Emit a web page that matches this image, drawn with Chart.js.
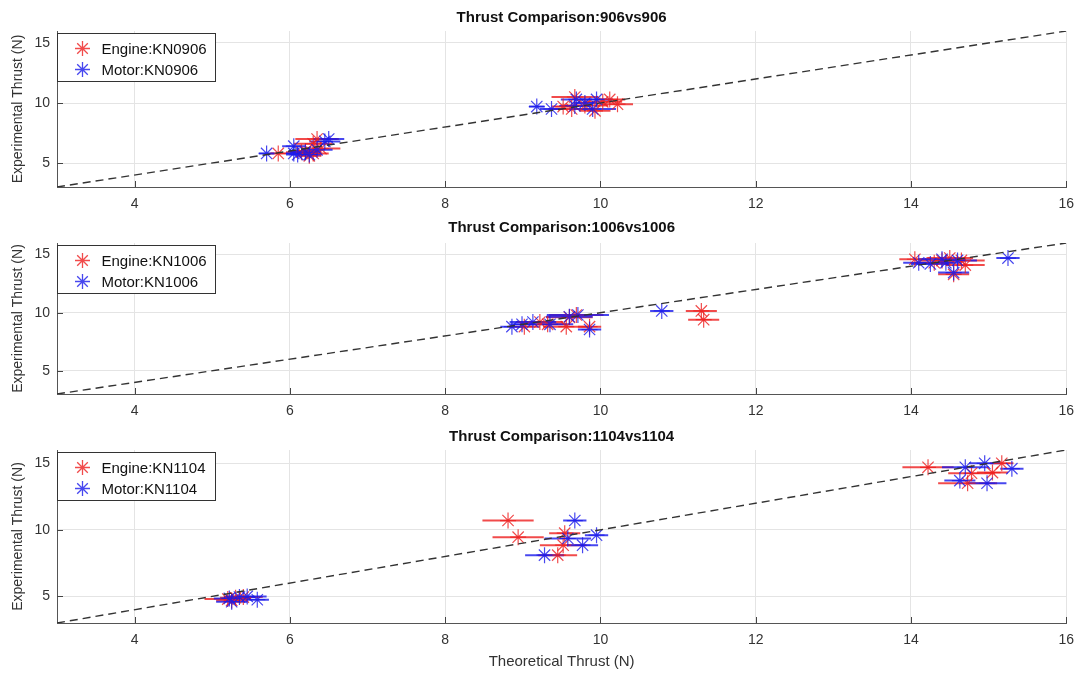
<!DOCTYPE html>
<html>
<head>
<meta charset="utf-8">
<script src="https://cdn.jsdelivr.net/npm/chart.js@4.4.1/dist/chart.umd.min.js"></script>
<style>
  body { margin: 0; background: #fff; width: 1083px; height: 675px; position: relative; overflow: hidden; }
  canvas { position: absolute; left: 0; }
</style>
</head>
<body>
<canvas id="c1" width="1083" height="214" style="top:0px"></canvas>
<canvas id="c2" width="1083" height="206" style="top:214px"></canvas>
<canvas id="c3" width="1083" height="255" style="top:420px"></canvas>
<script>
// axes
const xTicks = [4, 6, 8, 10, 12, 14, 16];
const yTicks = [5, 10, 15];
const refLine = [3, 16];

// panel 1 : 906 vs 906
const p1EngineX = [5.85, 6.35, 6.3, 6.2, 6.25, 6.4, 6.15, 6.3, 9.52, 9.67, 10.12, 10.22, 9.63, 9.93, 10.03, 9.8];
const p1EngineY = [5.8, 7.0, 6.6, 6.0, 5.6, 6.2, 5.9, 5.8, 9.7, 10.5, 10.3, 9.9, 9.5, 9.35, 10.1, 9.8];
const p1EngineErr = [0.1, 0.28, 0.25, 0.2, 0.15, 0.25, 0.2, 0.2, 0.15, 0.3, 0.2, 0.2, 0.3, 0.2, 0.25, 0.3];
const p1MotorX = [5.7, 6.05, 6.5, 6.45, 6.1, 6.2, 6.35, 6.25, 6.05, 9.18, 9.37, 9.69, 9.95, 9.9, 9.67, 9.8];
const p1MotorY = [5.8, 6.4, 7.0, 6.8, 5.7, 5.9, 6.1, 5.7, 5.8, 9.7, 9.5, 10.3, 10.3, 9.5, 9.75, 10.0];
const p1MotorErr = [0.1, 0.15, 0.2, 0.2, 0.15, 0.2, 0.2, 0.15, 0.1, 0.1, 0.15, 0.2, 0.2, 0.3, 0.2, 0.15];

// panel 2 : 1006 vs 1006
const p2EngineX = [9.02, 9.32, 9.56, 9.69, 9.86, 9.22, 9.6, 11.3, 11.33, 14.05, 14.3, 14.5, 14.65, 14.7, 14.55, 14.4];
const p2EngineY = [8.8, 9.0, 8.8, 9.8, 8.8, 9.2, 9.6, 10.15, 9.4, 14.6, 14.3, 14.7, 14.5, 14.1, 13.3, 14.5];
const p2EngineErr = [0.2, 0.25, 0.3, 0.35, 0.15, 0.3, 0.3, 0.2, 0.2, 0.2, 0.25, 0.3, 0.3, 0.25, 0.2, 0.3];
const p2MotorX = [8.86, 9.13, 9.6, 9.71, 9.86, 9.35, 8.99, 10.79, 14.1, 14.25, 14.4, 14.45, 14.55, 14.6, 15.25];
const p2MotorY = [8.8, 9.2, 9.65, 9.8, 8.55, 9.0, 9.0, 10.15, 14.3, 14.2, 14.6, 14.3, 13.45, 14.5, 14.7];
const p2MotorErr = [0.15, 0.3, 0.3, 0.4, 0.15, 0.3, 0.15, 0.15, 0.2, 0.25, 0.3, 0.2, 0.2, 0.25, 0.15];

// panel 3 : 1104 vs 1104
const p3EngineX = [5.2, 5.3, 5.4, 5.25, 8.81, 8.94, 9.54, 9.52, 9.45, 14.22, 15.17, 15.05, 14.78, 14.73];
const p3EngineY = [4.8, 4.9, 4.95, 4.7, 10.7, 9.45, 9.75, 8.85, 8.1, 14.7, 15.0, 14.3, 14.25, 13.5];
const p3EngineErr = [0.3, 0.2, 0.25, 0.2, 0.33, 0.33, 0.2, 0.3, 0.25, 0.33, 0.15, 0.2, 0.3, 0.38];
const p3MotorX = [5.22, 5.35, 5.45, 5.58, 5.25, 9.67, 9.58, 9.77, 9.95, 9.28, 14.7, 14.95, 15.3, 14.63, 14.98];
const p3MotorY = [4.85, 4.95, 5.0, 4.75, 4.6, 10.7, 9.35, 8.85, 9.6, 8.1, 14.7, 15.0, 14.6, 13.7, 13.5];
const p3MotorErr = [0.2, 0.2, 0.25, 0.15, 0.2, 0.15, 0.3, 0.2, 0.15, 0.25, 0.3, 0.2, 0.15, 0.2, 0.25];

const RED = 'rgba(238,30,30,0.8)';
const BLUE = 'rgba(25,25,235,0.8)';
const FONT = '"Liberation Sans", Arial, sans-serif';

function pts(xs, ys) {
  return xs.map((x, i) => ({ x: x, y: ys[i] }));
}

function drawStar(ctx, x, y, r) {
  ctx.beginPath();
  for (let k = 0; k < 4; k++) {
    const a = k * Math.PI / 4;
    ctx.moveTo(x - r * Math.cos(a), y - r * Math.sin(a));
    ctx.lineTo(x + r * Math.cos(a), y + r * Math.sin(a));
  }
  ctx.stroke();
}

// horizontal error bars, ticks inside the axes, title and legend
const decorPlugin = {
  id: 'decor',
  beforeDatasetsDraw(chart) {
    const ctx = chart.ctx, xs = chart.scales.x, ys = chart.scales.y, a = chart.chartArea;
    ctx.save();
    ctx.beginPath();
    ctx.rect(a.left, a.top, a.right - a.left, a.bottom - a.top);
    ctx.clip();
    chart.data.datasets.forEach(ds => {
      if (!ds.errX) return;
      ctx.strokeStyle = ds.borderColor;
      ctx.lineWidth = 2;
      ds.data.forEach((p, i) => {
        const py = ys.getPixelForValue(p.y);
        ctx.beginPath();
        ctx.moveTo(xs.getPixelForValue(p.x - ds.errX[i]), py);
        ctx.lineTo(xs.getPixelForValue(p.x + ds.errX[i]), py);
        ctx.stroke();
      });
    });
    ctx.restore();
  },
  afterDraw(chart, args, opts) {
    const ctx = chart.ctx, xs = chart.scales.x, ys = chart.scales.y, a = chart.chartArea;
    ctx.save();
    ctx.strokeStyle = '#444';
    ctx.lineWidth = 1;
    xTicks.forEach(v => {
      const px = Math.round(xs.getPixelForValue(v)) + 0.5;
      ctx.beginPath(); ctx.moveTo(px, a.bottom); ctx.lineTo(px, a.bottom - 6); ctx.stroke();
    });
    yTicks.forEach(v => {
      const py = Math.round(ys.getPixelForValue(v)) + 0.5;
      ctx.beginPath(); ctx.moveTo(a.left, py); ctx.lineTo(a.left + 6, py); ctx.stroke();
    });

    // title
    ctx.fillStyle = '#111';
    ctx.font = 'bold 15px ' + FONT;
    ctx.textAlign = 'center';
    ctx.textBaseline = 'middle';
    ctx.fillText(opts.title, (a.left + a.right) / 2, opts.titleY);

    // legend
    const bx = a.left + 0.5, by = a.top + 2.5;
    ctx.fillStyle = '#fff';
    ctx.fillRect(bx, by, 158, 48);
    ctx.strokeStyle = '#333';
    ctx.strokeRect(bx, by, 158, 48);
    const items = chart.data.datasets.filter(d => d.errX);
    items.forEach((d, i) => {
      const ly = by + 15 + i * 21;
      ctx.strokeStyle = d.borderColor;
      ctx.lineWidth = 1.3;
      drawStar(ctx, bx + 25, ly, 7.5);
      ctx.fillStyle = '#111';
      ctx.font = '15px ' + FONT;
      ctx.textAlign = 'left';
      ctx.fillText(d.label, bx + 44, ly + 1);
    });
    ctx.restore();
  }
};

function makeChart(id, title, titleY, areaTop, xAxisH, showXTitle,
                   engLabel, engX, engY, engErr, motLabel, motX, motY, motErr) {
  return new Chart(document.getElementById(id), {
    type: 'scatter',
    data: {
      datasets: [
        {
          label: 'ref',
          data: pts(refLine, refLine),
          showLine: true,
          pointRadius: 0,
          borderColor: '#333',
          borderWidth: 1.4,
          borderDash: [8, 5],
          order: 0
        },
        {
          label: engLabel,
          data: pts(engX, engY),
          errX: engErr,
          pointStyle: 'star',
          pointRadius: 8,
          borderWidth: 1.2,
          borderColor: RED,
          backgroundColor: RED,
          order: 2
        },
        {
          label: motLabel,
          data: pts(motX, motY),
          errX: motErr,
          pointStyle: 'star',
          pointRadius: 8,
          borderWidth: 1.2,
          borderColor: BLUE,
          backgroundColor: BLUE,
          order: 1
        }
      ]
    },
    options: {
      responsive: false,
      animation: false,
      layout: { padding: { left: 0, right: 16, top: areaTop, bottom: 0 } },
      plugins: {
        legend: { display: false },
        tooltip: { enabled: false },
        decor: { title: title, titleY: titleY }
      },
      scales: {
        x: {
          type: 'linear',
          min: 3,
          max: 16,
          afterBuildTicks: s => { s.ticks = xTicks.map(v => ({ value: v })); },
          afterFit: s => { s.height = xAxisH; },
          grid: { color: '#e4e4e4', drawTicks: false },
          border: { display: true, color: '#555', width: 1 },
          ticks: { color: '#333', padding: 9, font: { family: FONT, size: 14 } },
          title: {
            display: showXTitle,
            text: 'Theoretical Thrust (N)',
            color: '#333',
            font: { family: FONT, size: 15 },
            padding: { top: 0, bottom: 4 }
          }
        },
        y: {
          type: 'linear',
          min: 3,
          max: 16,
          afterBuildTicks: s => { s.ticks = yTicks.map(v => ({ value: v })); },
          afterFit: s => { s.width = 57; },
          grid: { color: '#e4e4e4', drawTicks: false },
          border: { display: true, color: '#555', width: 1 },
          ticks: { color: '#333', padding: 7, font: { family: FONT, size: 14 } },
          title: {
            display: true,
            text: 'Experimental Thrust (N)',
            color: '#333',
            font: { family: FONT, size: 14 },
            padding: { top: 10, bottom: 0 }
          }
        }
      }
    },
    plugins: [decorPlugin]
  });
}

makeChart('c1', 'Thrust Comparison:906vs906', 18, 31, 27, false,
  'Engine:KN0906', p1EngineX, p1EngineY, p1EngineErr,
  'Motor:KN0906', p1MotorX, p1MotorY, p1MotorErr);
makeChart('c2', 'Thrust Comparison:1006vs1006', 14, 29, 26, false,
  'Engine:KN1006', p2EngineX, p2EngineY, p2EngineErr,
  'Motor:KN1006', p2MotorX, p2MotorY, p2MotorErr);
makeChart('c3', 'Thrust Comparison:1104vs1104', 17, 30, 52, true,
  'Engine:KN1104', p3EngineX, p3EngineY, p3EngineErr,
  'Motor:KN1104', p3MotorX, p3MotorY, p3MotorErr);
</script>
</body>
</html>
